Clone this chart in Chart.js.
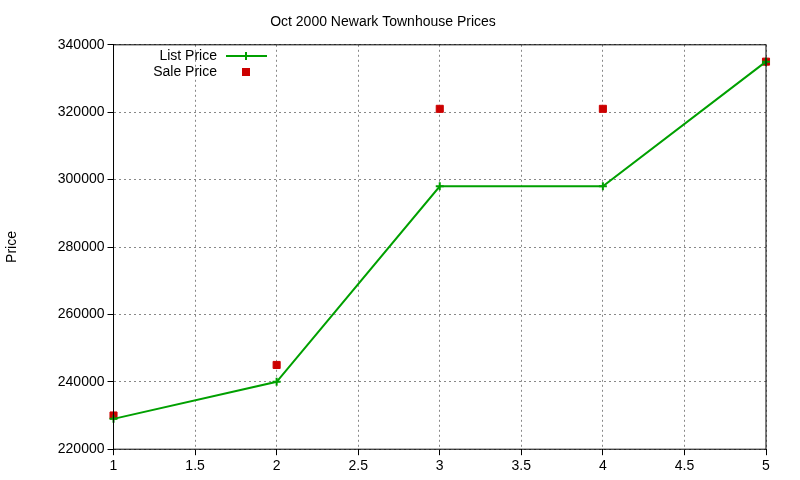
<!DOCTYPE html>
<html><head><meta charset="utf-8">
<script src="https://cdn.jsdelivr.net/npm/chart.js@4"></script>
<style>body{margin:0;background:#fff}#c{width:800px;height:480px}</style>
</head><body><div id="c"><canvas id="cv" width="800" height="480"></canvas></div>
<script>
const xs = [1, 2, 3, 4, 5];
const listPrice = [229000, 240000, 298000, 298000, 335000];
const salePrice = [230000, 245000, 321000, 321000, 335000];

const pts = (v) => xs.map((x, i) => ({ x: x, y: v[i] }));
const FONT = '"Liberation Sans", Arial';

// gnuplot-ish box + key
const frame = {
  id: 'frame',
  afterDraw(chart) {
    const { ctx, chartArea: a } = chart;
    ctx.save();
    ctx.strokeStyle = '#000';
    ctx.lineWidth = 1;
    ctx.strokeRect(a.left, a.top, a.right - a.left, a.bottom - a.top);
    ctx.font = '14px ' + FONT;
    ctx.fillStyle = '#000';
    ctx.textAlign = 'right';
    ctx.textBaseline = 'middle';
    ctx.fillText('List Price', 217, 56);
    ctx.fillText('Sale Price', 217, 72);
    ctx.strokeStyle = '#00a000';
    ctx.lineWidth = 2;
    ctx.beginPath(); ctx.moveTo(226, 56); ctx.lineTo(267, 56); ctx.stroke();
    ctx.beginPath(); ctx.moveTo(246, 52); ctx.lineTo(246, 60); ctx.moveTo(242, 56); ctx.lineTo(250, 56); ctx.stroke();
    ctx.fillStyle = '#cc0000';
    ctx.fillRect(242, 68, 8, 8);
    ctx.restore();
  }
};

new Chart(document.getElementById('cv'), {
  type: 'scatter',
  data: {
    datasets: [
      {
        label: 'List Price',
        data: pts(listPrice),
        showLine: true,
        clip: false,
        borderColor: '#00a000',
        backgroundColor: '#00a000',
        borderWidth: 2,
        pointStyle: 'cross',
        pointRadius: 4,
        pointBorderWidth: 2
      },
      {
        label: 'Sale Price',
        data: pts(salePrice),
        showLine: false,
        clip: false,
        borderColor: '#cc0000',
        backgroundColor: '#cc0000',
        pointStyle: 'rect',
        pointRadius: 5,
        pointRotation: 0
      }
    ]
  },
  options: {
    responsive: false,
    animation: false,
    layout: { padding: { top: 6, right: 34, left: 0, bottom: 2 } },
    plugins: {
      legend: { display: false },
      tooltip: { enabled: false },
      title: {
        display: true,
        text: 'Oct 2000 Newark Townhouse Prices',
        color: '#000',
        font: { family: FONT, size: 14, weight: 'normal' },
        padding: { top: 8, bottom: 14 }
      }
    },
    scales: {
      x: {
        type: 'linear',
        min: 1, max: 5,
        border: { display: false, dash: [2, 3] },
        grid: { color: '#888', lineWidth: 1, tickLength: 6, tickColor: '#000' },
        ticks: { stepSize: 0.5, color: '#000', font: { family: FONT, size: 14 }, callback: (v) => String(v) }
      },
      y: {
        min: 220000, max: 340000,
        border: { display: false, dash: [2, 3] },
        grid: { color: '#888', lineWidth: 1, tickLength: 6, tickColor: '#000' },
        ticks: { stepSize: 20000, color: '#000', font: { family: FONT, size: 14 }, callback: (v) => String(v) },
        title: { display: true, text: 'Price', color: '#000', padding: { bottom: 34 }, font: { family: FONT, size: 14 } }
      }
    }
  },
  plugins: [frame]
});
</script>
</body></html>
